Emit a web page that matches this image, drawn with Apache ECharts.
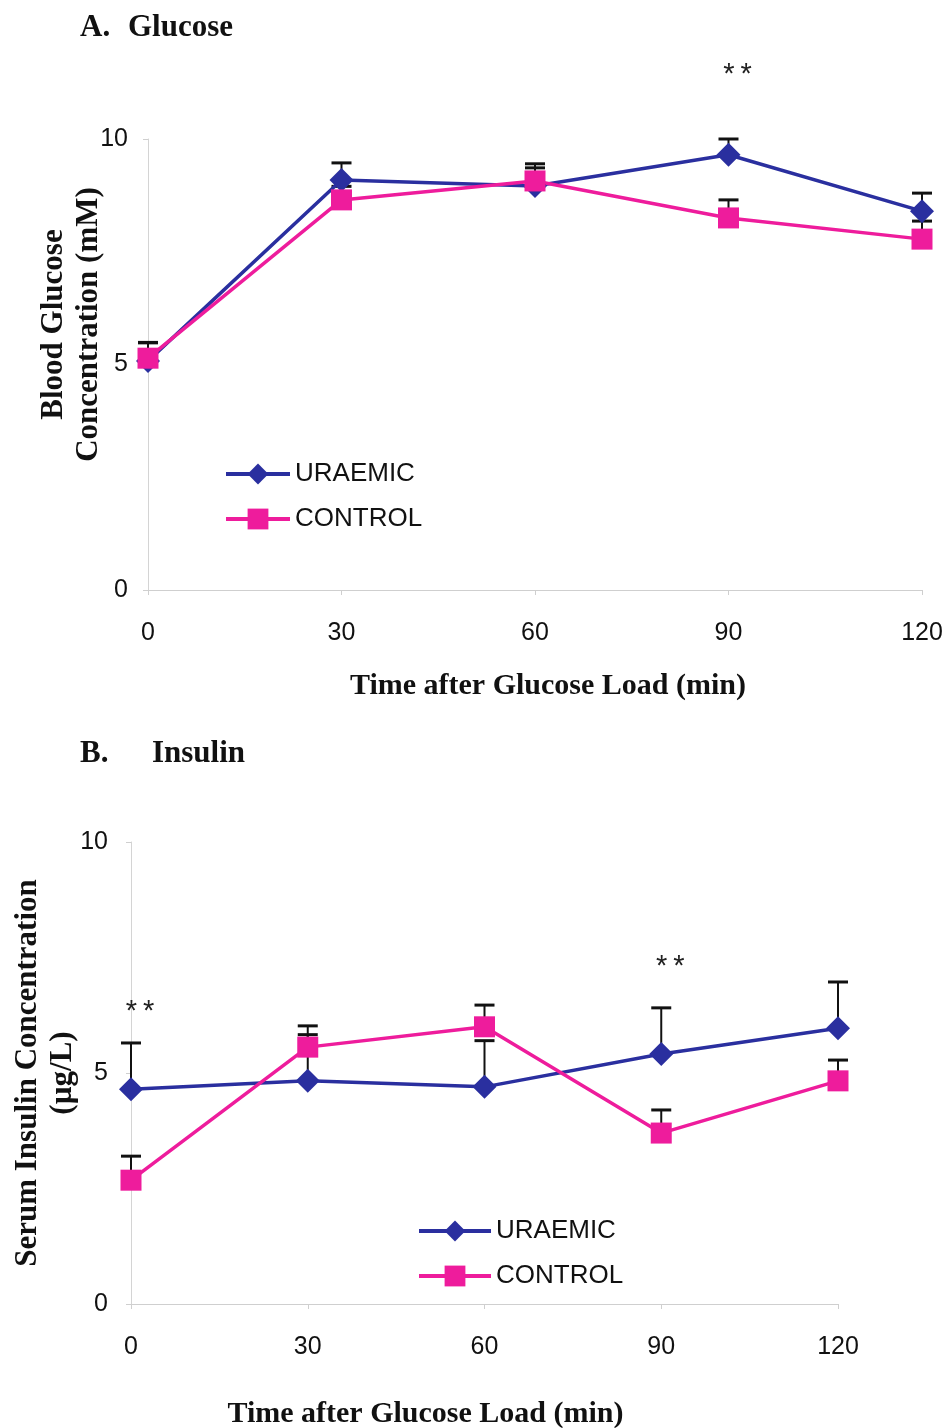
<!DOCTYPE html>
<html>
<head>
<meta charset="utf-8">
<script src="https://cdn.jsdelivr.net/npm/echarts@6/dist/echarts.min.js"></script>
<style>
  html, body { margin: 0; padding: 0; background: #ffffff; }
  #chart { width: 952px; height: 1428px; }
</style>
</head>
<body>
<div id="chart"></div>
<script>
// Sampling times (min after glucose load)
const times = [0, 30, 60, 90, 120];
const xTicks = [0, 30, 60, 90, 120];

// Panel A: blood glucose (mM), mean and upper SEM
const glucoseUraemic = [5.08, 9.09, 8.96, 9.65, 8.40];
const glucoseUraemicErr = [0.40, 0.38, 0.49, 0.35, 0.40];
const glucoseControl = [5.14, 8.65, 9.07, 8.25, 7.78];
const glucoseControlErr = [0.35, 0.30, 0.29, 0.40, 0.40];
const glucoseSig = [[90, 11.42]];

// Panel B: serum insulin (µg/L), mean and upper SEM
const insulinUraemic = [4.65, 4.83, 4.70, 5.41, 5.97];
const insulinUraemicErr = [1.00, 1.00, 1.00, 1.00, 1.00];
const insulinControl = [2.68, 5.56, 6.00, 3.70, 4.83];
const insulinControlErr = [0.52, 0.46, 0.47, 0.50, 0.45];
const insulinSig = [[0, 6.33], [90, 7.30]];

const BLUE = '#2a2f9f';
const PINK = '#ee1c9c';
const SANS = '"Liberation Sans", Arial, sans-serif';
const SERIF = '"Liberation Serif", "Times New Roman", serif';

function pairs(vals) { return times.map((t, i) => [t, vals[i]]); }
function errData(vals, errs) { return times.map((t, i) => [t, vals[i], errs[i]]); }

// Upward-only error bars with a cap
function errorBars(gridIdx, vals, errs) {
  return {
    type: 'custom',
    xAxisIndex: gridIdx, yAxisIndex: gridIdx,
    data: errData(vals, errs),
    z: 1,
    silent: true,
    clip: false,
    renderItem: function (params, api) {
      const x = api.value(0), y = api.value(1), e = api.value(2);
      const p0 = api.coord([x, y]);
      const p1 = api.coord([x, y + e]);
      const half = 10;
      return {
        type: 'group',
        children: [
          { type: 'line', shape: { x1: p0[0], y1: p0[1], x2: p1[0], y2: p1[1] },
            style: { stroke: '#111', lineWidth: 2 } },
          { type: 'line', shape: { x1: p1[0] - half, y1: p1[1], x2: p1[0] + half, y2: p1[1] },
            style: { stroke: '#111', lineWidth: 3 } }
        ]
      };
    }
  };
}

// Significance asterisks placed in data space
function sigMarks(gridIdx, pts) {
  return {
    type: 'custom',
    xAxisIndex: gridIdx, yAxisIndex: gridIdx,
    data: pts,
    silent: true,
    clip: false,
    z: 5,
    renderItem: function (params, api) {
      const p = api.coord([api.value(0), api.value(1)]);
      return {
        type: 'text',
        x: p[0] + 9, y: p[1],
        style: { text: '*\u2009*', font: '29px ' + SANS, fill: '#222',
                 align: 'center', verticalAlign: 'middle' }
      };
    }
  };
}

function lineSeries(name, gridIdx, vals, color, symbol, size) {
  return {
    name: name,
    type: 'line',
    xAxisIndex: gridIdx, yAxisIndex: gridIdx,
    data: pairs(vals),
    symbol: symbol,
    symbolSize: size,
    showAllSymbol: true,
    clip: false,
    z: 3,
    lineStyle: { color: color, width: 3.5 },
    itemStyle: { color: color, borderWidth: 0 },
    emphasis: { disabled: true }
  };
}

function xAxisCfg(gridIdx, gap, pad) {
  return {
    type: 'value', gridIndex: gridIdx, min: 0, max: 120, interval: 30,
    name: 'Time after Glucose Load (min)', nameLocation: 'middle', nameGap: gap,
    nameMoveOverlap: false,
    nameTextStyle: { fontFamily: SERIF, fontWeight: 'bold', fontSize: 30, color: '#111', padding: pad },
    axisLine: { show: true, lineStyle: { color: '#cfcfcf', width: 1 } },
    axisTick: { show: true, length: 5, inside: false, lineStyle: { color: '#cfcfcf' } },
    axisLabel: { fontFamily: SANS, fontSize: 25, color: '#111', margin: 31,
                 formatter: v => xTicks.indexOf(v) >= 0 ? String(v) : '' },
    splitLine: { show: false }
  };
}

function yAxisCfg(gridIdx, name, gap, labelMargin, pad) {
  return {
    type: 'value', gridIndex: gridIdx, min: 0, max: 10, interval: 5,
    name: name, nameLocation: 'middle', nameGap: gap,
    nameMoveOverlap: false,
    nameTextStyle: { fontFamily: SERIF, fontWeight: 'bold', fontSize: 31, color: '#111',
                     lineHeight: 35, padding: pad },
    axisLine: { show: true, lineStyle: { color: '#d4d4d4', width: 1 } },
    axisTick: { show: true, length: 5, lineStyle: { color: '#cfcfcf' } },
    axisLabel: { fontFamily: SANS, fontSize: 25, color: '#111', margin: labelMargin },
    splitLine: { show: false }
  };
}

const legendText = { fontFamily: SANS, fontSize: 26, color: '#111' };
const headStyle = { fontFamily: SERIF, fontWeight: 'bold', fontSize: 31, color: '#111' };

const option = {
  backgroundColor: '#ffffff',
  animation: false,
  title: [
    { text: 'A.', left: 80, top: 12, padding: 0, textStyle: headStyle },
    { text: 'Glucose', left: 128, top: 12, padding: 0, textStyle: headStyle },
    { text: 'B.', left: 80, top: 738, padding: 0, textStyle: headStyle },
    { text: 'Insulin', left: 152, top: 738, padding: 0, textStyle: headStyle }
  ],
  legend: [
    { left: 224, top: 461, orient: 'vertical', padding: 0, itemWidth: 64, itemHeight: 26,
      itemGap: 19, textStyle: legendText, data: ['URAEMIC', 'CONTROL'], selectedMode: false,
      lineStyle: { width: 4 } },
    { left: 417, top: 1218, orient: 'vertical', padding: 0, itemWidth: 72, itemHeight: 26,
      itemGap: 19, textStyle: legendText, data: ['URAEMIC', 'CONTROL'], selectedMode: false,
      lineStyle: { width: 4 } }
  ],
  grid: [
    { left: 148, top: 139, width: 774, height: 451, outerBoundsMode: 'none', containLabel: false },
    { left: 131, top: 842, width: 707, height: 462, outerBoundsMode: 'none', containLabel: false }
  ],
  xAxis: [xAxisCfg(0, 81, [0, 0, 0, 26]), xAxisCfg(1, 95, [0, 118, 0, 0])],
  yAxis: [
    yAxisCfg(0, 'Blood Glucose\nConcentration (mM)', 42, 20, [0, 0, 0, 80]),
    yAxisCfg(1, 'Serum Insulin Concentration\n(µg/L)', 51, 23, 0)
  ],
  series: [
    errorBars(0, glucoseControl, glucoseControlErr),
    errorBars(0, glucoseUraemic, glucoseUraemicErr),
    lineSeries('URAEMIC', 0, glucoseUraemic, BLUE, 'diamond', 24),
    lineSeries('CONTROL', 0, glucoseControl, PINK, 'rect', 21),
    sigMarks(0, glucoseSig),

    errorBars(1, insulinControl, insulinControlErr),
    errorBars(1, insulinUraemic, insulinUraemicErr),
    lineSeries('URAEMIC', 1, insulinUraemic, BLUE, 'diamond', 24),
    lineSeries('CONTROL', 1, insulinControl, PINK, 'rect', 21),
    sigMarks(1, insulinSig)
  ]
};

const chart = echarts.init(document.getElementById('chart'), null, { renderer: 'canvas' });
chart.setOption(option);
</script>
</body>
</html>
